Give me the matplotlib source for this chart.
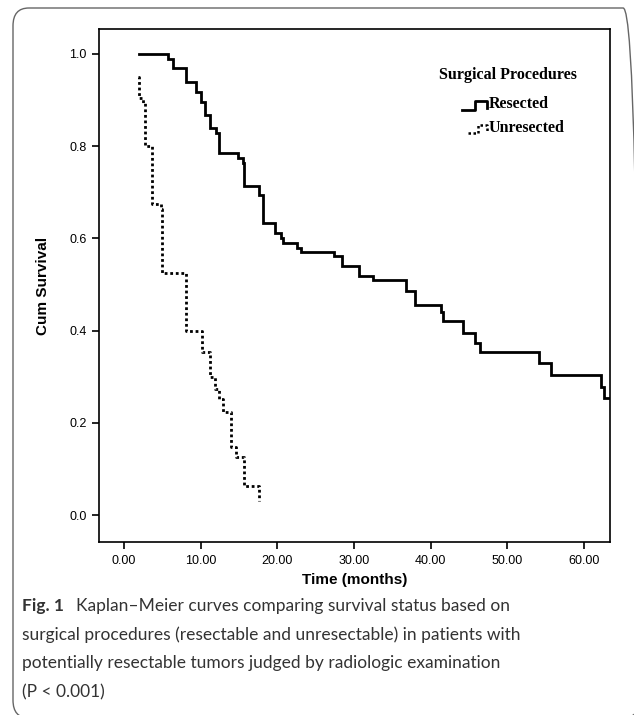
import numpy as np
import matplotlib
matplotlib.use('Agg')
import matplotlib.pyplot as plt
from matplotlib.lines import Line2D
from matplotlib.patches import FancyBboxPatch

# Kaplan-Meier step data (time in months, cumulative survival)
resected_time = [2.0, 5.7, 6.4, 8.1, 9.4, 10.0, 10.6, 11.2, 12.0, 12.4, 14.9, 15.5, 15.7,
                 17.6, 18.1, 19.7, 20.5, 20.8, 22.6, 23.1, 27.4, 28.4, 30.6, 32.5, 36.8,
                 37.9, 41.4, 41.6, 44.2, 45.8, 46.4, 54.1, 55.7, 62.2, 62.6, 64.0]
resected_surv = [1.0, 0.99, 0.97, 0.94, 0.918, 0.896, 0.868, 0.84, 0.829, 0.786, 0.775, 0.764, 0.714,
                 0.695, 0.634, 0.612, 0.602, 0.591, 0.58, 0.571, 0.561, 0.541, 0.519, 0.511, 0.487,
                 0.455, 0.44, 0.42, 0.396, 0.374, 0.353, 0.329, 0.303, 0.279, 0.255, 0.255]

unresected_time = [1.8, 1.9, 2.5, 2.7, 3.6, 4.8, 5.0, 8.1, 10.2, 11.2, 11.9, 12.4, 12.9,
                   14.0, 14.6, 15.7, 17.6]
unresected_surv = [0.95, 0.905, 0.894, 0.80, 0.675, 0.664, 0.526, 0.40, 0.353, 0.30, 0.273,
                   0.251, 0.223, 0.149, 0.126, 0.063, 0.03]

xticks = [0, 10, 20, 30, 40, 50, 60]
yticks = [0.0, 0.2, 0.4, 0.6, 0.8, 1.0]

W, H = 634, 715
fig = plt.figure(figsize=(W / 100, H / 100), dpi=100)

def fx(px):
    return px / W

def fy(py):
    return 1 - py / H

ax = fig.add_axes([fx(99), fy(542), fx(610) - fx(99), fy(29) - fy(542)])

ax.step(resected_time, resected_surv, where='post', color='black', lw=2.0, solid_joinstyle='miter')
ax.step(unresected_time, unresected_surv, where='post', color='black', lw=2.0,
        linestyle=(0, (1.0, 1.0)))

ax.set_xlim(-3.26, 63.4)
ax.set_ylim(-0.058, 1.054)
ax.set_xticks(xticks)
ax.set_xticklabels(['%.2f' % t for t in xticks], fontsize=9, family='Liberation Sans')
ax.set_yticks(yticks)
ax.set_yticklabels(['%.1f' % t for t in yticks], fontsize=9, family='Liberation Sans')
ax.tick_params(direction='out', length=5, width=1.2, pad=4)
for s in ax.spines.values():
    s.set_linewidth(1.2)

ax.set_xlabel('Time (months)', fontsize=11, fontweight='bold', family='Liberation Sans', labelpad=5)
ax.set_ylabel('Cum Survival', fontsize=11, fontweight='bold', family='Liberation Sans', labelpad=14)

# legend drawn like the SPSS one
fig.text(fx(508), fy(75), 'Surgical Procedures', ha='center', va='center',
         fontsize=11.5, fontweight='bold', family='Liberation Serif')
fig.text(fx(489), fy(104), 'Resected', ha='left', va='center',
         fontsize=11.5, fontweight='bold', family='Liberation Serif')
fig.text(fx(489), fy(128), 'Unresected', ha='left', va='center',
         fontsize=11.5, fontweight='bold', family='Liberation Serif')
fig.add_artist(Line2D([fx(462), fx(475), fx(475), fx(487), fx(487)],
                      [fy(110), fy(110), fy(101), fy(101), fy(108)],
                      color='black', lw=2.0))
fig.add_artist(Line2D([fx(468), fx(478), fx(478), fx(487), fx(487)],
                      [fy(133), fy(133), fy(125), fy(125), fy(131)],
                      color='black', lw=1.8, linestyle=(0, (1.0, 1.0))))

# caption
cap_kw = dict(fontsize=12.5, family='Lato', color='#333333', ha='left', va='center')
fig.text(fx(22), fy(606), 'Fig. 1', fontweight='bold', **cap_kw)
fig.text(fx(76), fy(606), 'Kaplan\u2013Meier curves comparing survival status based on', **cap_kw)
fig.text(fx(22), fy(635), 'surgical procedures (resectable and unresectable) in patients with', **cap_kw)
fig.text(fx(22), fy(663), 'potentially resectable tumors judged by radiologic examination', **cap_kw)
fig.text(fx(22), fy(692), '(P < 0.001)', **cap_kw)

# rounded frame around the figure
box = FancyBboxPatch((fx(13), fy(718)), fx(639) - fx(13), fy(8) - fy(718),
                     boxstyle='round,pad=0,rounding_size=0.025', transform=fig.transFigure,
                     fill=False, edgecolor='#666666', lw=1.0, clip_on=False)
fig.add_artist(box)

plt.savefig('out.png', dpi=100)
